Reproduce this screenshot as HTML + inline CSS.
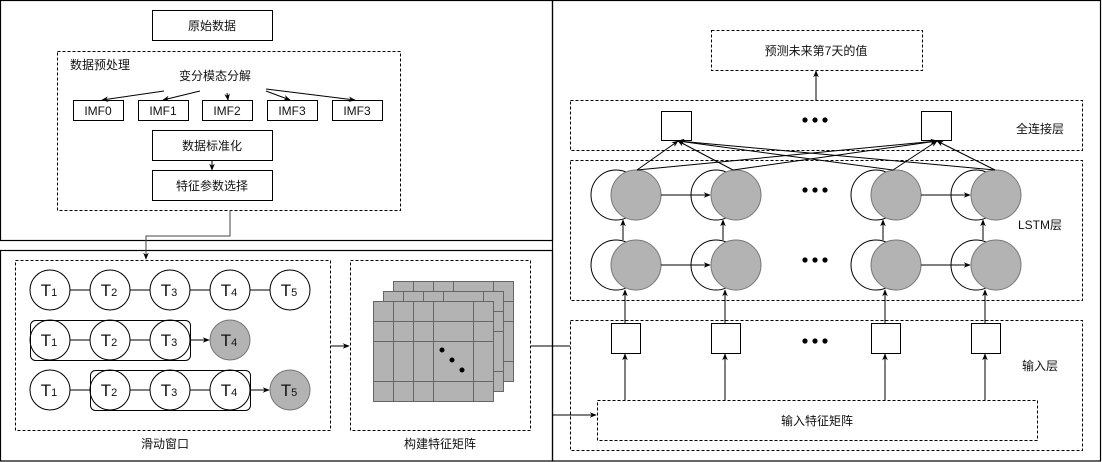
<!DOCTYPE html>
<html><head><meta charset="utf-8"><style>html,body{margin:0;padding:0;background:#fff}svg{display:block}text{font-family:"Liberation Sans","Noto Sans CJK SC",sans-serif;font-size:12px;fill:#111}.t text{font-size:17px}.t tspan{font-size:11px}</style></head><body>
<svg width="1102" height="462" viewBox="0 0 1102 462" xmlns="http://www.w3.org/2000/svg">
<defs>
<marker id="a" viewBox="0 0 10 10" refX="9" refY="5" markerWidth="7" markerHeight="7" orient="auto-start-reverse"><path d="M0,1 L10,5 L0,9 L3,5 z" fill="#000"/></marker>
</defs>
<g fill="none" stroke="#000" stroke-width="1.2">
<rect x="0.5" y="0.5" width="552" height="240"/>
<rect x="0.5" y="250.5" width="552" height="210.5"/>
<rect x="552.5" y="0.5" width="548" height="460.5"/>
</g>
<g fill="none" stroke="#000" stroke-width="1" stroke-dasharray="3,2">
<rect x="57.5" y="51.5" width="343" height="159"/>
<rect x="15.5" y="260.5" width="315" height="170"/>
<rect x="350.5" y="260.5" width="180" height="170"/>
<rect x="711.5" y="30.5" width="211" height="40"/>
<rect x="570.5" y="100.5" width="512" height="50"/>
<rect x="570.5" y="160.5" width="512" height="140"/>
<rect x="570.5" y="320.5" width="512" height="130"/>
<rect x="597.5" y="400.5" width="440" height="40"/>
</g>
<g fill="#fff" stroke="#000" stroke-width="1">
<rect x="152.5" y="10.5" width="120" height="30"/>
<rect x="73.5" y="100.5" width="50" height="20"/>
<rect x="138.5" y="100.5" width="50" height="20"/>
<rect x="202.5" y="100.5" width="50" height="20"/>
<rect x="267.5" y="100.5" width="50" height="20"/>
<rect x="332.5" y="100.5" width="50" height="20"/>
<rect x="152.5" y="130.5" width="120" height="30"/>
<rect x="152.5" y="170.5" width="120" height="30"/>
</g>
<g text-anchor="middle">
<text x="212" y="30">原始数据</text>
<text x="98" y="115">IMF0</text><text x="163" y="115">IMF1</text><text x="227" y="115">IMF2</text><text x="292" y="115">IMF3</text><text x="357" y="115">IMF3</text>
<text x="212" y="150">数据标准化</text>
<text x="212" y="190">特征参数选择</text>
<text x="215" y="80">变分模态分解</text>
<text x="165" y="448">滑动窗口</text>
<text x="440" y="448">构建特征矩阵</text>
<text x="816" y="55">预测未来第7天的值</text>
<text x="1040" y="133">全连接层</text>
<text x="1040" y="229">LSTM层</text>
<text x="1040" y="370">输入层</text>
<text x="817" y="425">输入特征矩阵</text>
</g>
<text x="70" y="69">数据预处理</text>
<g stroke="#000" stroke-width="1" fill="none" marker-end="url(#a)">
<line x1="164" y1="91" x2="102" y2="100"/>
<line x1="200" y1="91" x2="163" y2="100"/>
<line x1="227" y1="93" x2="228" y2="100"/>
<line x1="266" y1="91" x2="290" y2="100"/>
<line x1="266" y1="89" x2="355" y2="100"/>
<line x1="212" y1="160" x2="212" y2="170"/>
<polyline points="230,210 230,236 146,236 146,259" stroke="#444"/>
<line x1="330" y1="346" x2="349" y2="346"/>
<line x1="552" y1="415" x2="596" y2="415"/>
<line x1="816" y1="100" x2="816" y2="71"/>
</g>
<line x1="530" y1="346" x2="570" y2="346" stroke="#000"/>
<g stroke="#000" stroke-width="1">
<line x1="70" y1="290" x2="270" y2="290"/>
<line x1="70" y1="340" x2="150" y2="340"/>
<line x1="70" y1="390" x2="210" y2="390"/>
</g>
<g fill="none" stroke="#000" stroke-width="1" marker-end="url(#a)">
<line x1="190" y1="340" x2="209" y2="340"/>
<line x1="250" y1="390" x2="269" y2="390"/>
</g>
<g stroke="#000" stroke-width="1" fill="#fff">
<circle cx="50" cy="290" r="20"/><circle cx="110" cy="290" r="20"/><circle cx="170" cy="290" r="20"/><circle cx="230" cy="290" r="20"/><circle cx="290" cy="290" r="20"/>
<circle cx="50" cy="340" r="20"/><circle cx="110" cy="340" r="20"/><circle cx="170" cy="340" r="20"/>
<circle cx="50" cy="390" r="20"/><circle cx="110" cy="390" r="20"/><circle cx="170" cy="390" r="20"/><circle cx="230" cy="390" r="20"/>
</g>
<g fill="#b3b3b3" stroke="#777"><circle cx="230" cy="340" r="20"/><circle cx="290" cy="390" r="20"/></g>
<g fill="none" stroke="#000" stroke-width="1">
<rect x="30.5" y="320.5" width="160" height="40" rx="5"/>
<rect x="90.5" y="370.5" width="160" height="40" rx="5"/>
</g>
<g class="t" text-anchor="middle">
<text x="49" y="296">T<tspan>1</tspan></text><text x="109" y="296">T<tspan>2</tspan></text><text x="169" y="296">T<tspan>3</tspan></text><text x="229" y="296">T<tspan>4</tspan></text><text x="289" y="296">T<tspan>5</tspan></text>
<text x="49" y="346">T<tspan>1</tspan></text><text x="109" y="346">T<tspan>2</tspan></text><text x="169" y="346">T<tspan>3</tspan></text><text x="229" y="346">T<tspan>4</tspan></text>
<text x="49" y="396">T<tspan>1</tspan></text><text x="109" y="396">T<tspan>2</tspan></text><text x="169" y="396">T<tspan>3</tspan></text><text x="229" y="396">T<tspan>4</tspan></text><text x="289" y="396">T<tspan>5</tspan></text>
</g>
<g fill="#b3b3b3" stroke="#666" stroke-width="1">
<rect x="393.5" y="281.5" width="120" height="100"/>
<path d="M413.5,281.5V381.5M433.5,281.5V381.5M453.5,281.5V381.5M493.5,281.5V381.5M393.5,301.5H513.5M393.5,321.5H513.5M393.5,361.5H513.5" fill="none"/>
<rect x="383.5" y="291.5" width="120" height="100"/>
<path d="M403.5,291.5V391.5M423.5,291.5V391.5M443.5,291.5V391.5M483.5,291.5V391.5M383.5,311.5H503.5M383.5,331.5H503.5M383.5,371.5H503.5" fill="none"/>
<rect x="373.5" y="301.5" width="120" height="100"/>
<path d="M393.5,301.5V401.5M413.5,301.5V401.5M433.5,301.5V401.5M473.5,301.5V401.5M373.5,321.5H493.5M373.5,341.5H493.5M373.5,381.5H493.5" fill="none"/>
</g>
<g fill="#000"><circle cx="442" cy="350" r="2.5"/><circle cx="452" cy="360" r="2.5"/><circle cx="462" cy="370" r="2.5"/></g>
<g fill="#fff" stroke="#000"><rect x="661.5" y="111.5" width="30" height="29"/><rect x="921.5" y="111.5" width="30" height="29"/>
<rect x="611.5" y="323.5" width="29" height="30"/><rect x="711.5" y="323.5" width="29" height="30"/><rect x="871.5" y="323.5" width="29" height="30"/><rect x="971.5" y="323.5" width="29" height="30"/></g>
<g fill="#000">
<circle cx="805" cy="120" r="2.6"/><circle cx="815" cy="120" r="2.6"/><circle cx="825" cy="120" r="2.6"/>
<circle cx="805" cy="190" r="2.6"/><circle cx="815" cy="190" r="2.6"/><circle cx="825" cy="190" r="2.6"/>
<circle cx="805" cy="260" r="2.6"/><circle cx="815" cy="260" r="2.6"/><circle cx="825" cy="260" r="2.6"/>
<circle cx="805" cy="341" r="2.6"/><circle cx="815" cy="341" r="2.6"/><circle cx="825" cy="341" r="2.6"/>
</g>
<g stroke="#000" fill="#fff">
<circle cx="616" cy="195" r="25"/><circle cx="716" cy="195" r="25"/><circle cx="876" cy="195" r="25"/><circle cx="976" cy="195" r="25"/>
<circle cx="616" cy="265" r="25"/><circle cx="716" cy="265" r="25"/><circle cx="876" cy="265" r="25"/><circle cx="976" cy="265" r="25"/>
</g>
<g stroke="#777" fill="#b3b3b3">
<circle cx="636" cy="195" r="25"/><circle cx="736" cy="195" r="25"/><circle cx="896" cy="195" r="25"/><circle cx="996" cy="195" r="25"/>
<circle cx="636" cy="265" r="25"/><circle cx="736" cy="265" r="25"/><circle cx="896" cy="265" r="25"/><circle cx="996" cy="265" r="25"/>
</g>
<g stroke="#000" stroke-width="1" fill="none" marker-end="url(#a)">
<line x1="661" y1="195" x2="710" y2="195"/><line x1="921" y1="195" x2="970" y2="195"/>
<line x1="661" y1="265" x2="710" y2="265"/><line x1="921" y1="265" x2="970" y2="265"/>
<line x1="623" y1="240" x2="623" y2="220"/><line x1="723" y1="240" x2="723" y2="220"/><line x1="883" y1="240" x2="883" y2="220"/><line x1="983" y1="240" x2="983" y2="220"/>
<line x1="625" y1="323" x2="625" y2="290"/><line x1="725" y1="323" x2="725" y2="290"/><line x1="885" y1="323" x2="885" y2="290"/><line x1="985" y1="323" x2="985" y2="290"/>
<line x1="625" y1="400" x2="625" y2="354"/><line x1="725" y1="400" x2="725" y2="354"/><line x1="885" y1="400" x2="885" y2="354"/><line x1="985" y1="400" x2="985" y2="354"/>
<line x1="637" y1="170" x2="678" y2="141"/><line x1="637" y1="170" x2="937" y2="141"/>
<line x1="733" y1="170" x2="678" y2="141"/><line x1="733" y1="170" x2="937" y2="141"/>
<line x1="893" y1="170" x2="678" y2="141"/><line x1="893" y1="170" x2="937" y2="141"/>
<line x1="995" y1="170" x2="678" y2="141"/><line x1="995" y1="170" x2="937" y2="141"/>
</g>
</svg>
</body></html>
